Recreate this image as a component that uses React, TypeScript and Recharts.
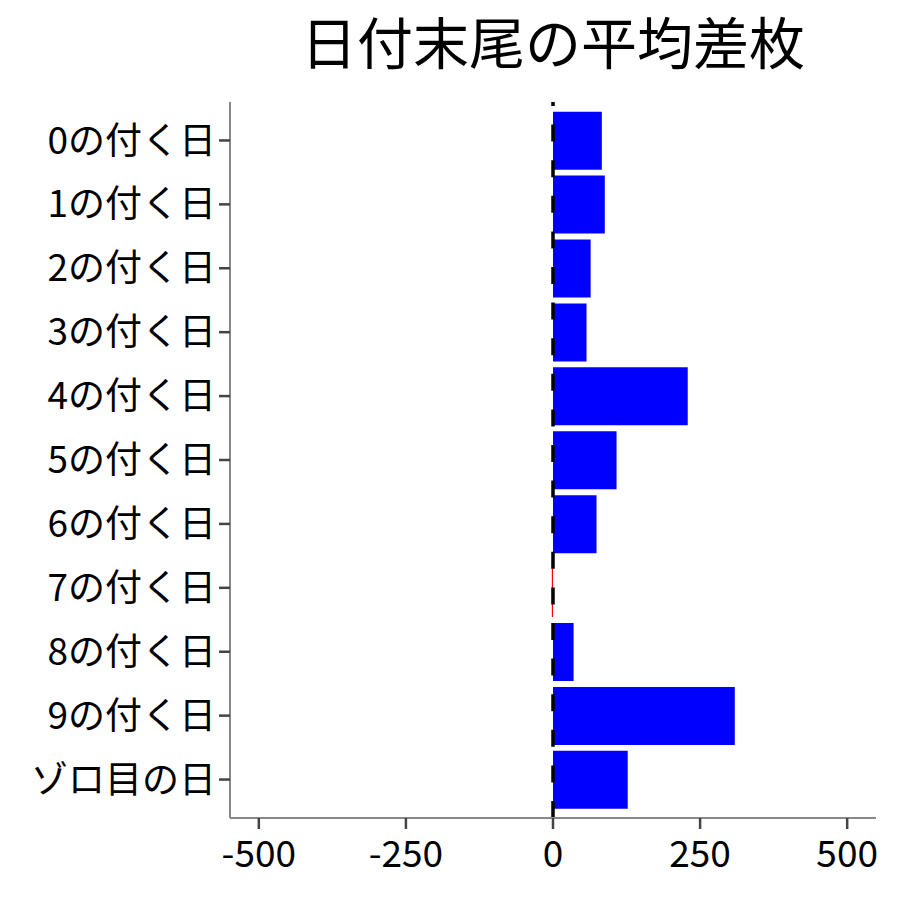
import { BarChart, Bar, Cell, XAxis, YAxis, ReferenceLine } from "recharts";

const CATEGORIES = [
  "0の付く日",
  "1の付く日",
  "2の付く日",
  "3の付く日",
  "4の付く日",
  "5の付く日",
  "6の付く日",
  "7の付く日",
  "8の付く日",
  "9の付く日",
  "ゾロ目の日",
];

const AVG_DIFF = [83, 88, 64, 57, 229, 108, 74, -2, 35, 309, 127];

const X_TICKS = [-500, -250, 0, 250, 500];

const FONT = '"Noto Sans CJK JP", "Noto Sans", sans-serif';

const chartData = CATEGORIES.map((name, i) => ({ name, value: AVG_DIFF[i] }));

export default function App() {
  return (
    <div style={{ position: "relative", width: 900, height: 900, background: "#fff" }}>
      <style>{"body{margin:0}"}</style>
      <div
        style={{
          position: "absolute",
          top: 11,
          left: 230,
          width: 646,
          textAlign: "center",
          fontFamily: FONT,
          fontSize: 56,
          lineHeight: "57px",
          whiteSpace: "nowrap",
          color: "#000",
        }}
      >
        日付末尾の平均差枚
      </div>
      <BarChart
        width={900}
        height={900}
        layout="vertical"
        data={chartData}
        margin={{ top: 102, right: 24, bottom: 0, left: 0 }}
        barCategoryGap="5%"
      >
        <XAxis
          type="number"
          domain={[-549, 549]}
          ticks={X_TICKS}
          height={82}
          tickSize={11}
          tickMargin={12}
          axisLine={{ stroke: "#888", strokeWidth: 2 }}
          tickLine={{ stroke: "#444", strokeWidth: 2.5 }}
          tick={{ fill: "#000", fontSize: 37, fontFamily: FONT }}
        />
        <YAxis
          type="category"
          dataKey="name"
          width={230}
          interval={0}
          padding={{ top: 6.5, bottom: 6.5 }}
          tickSize={11}
          tickMargin={3}
          axisLine={{ stroke: "#888", strokeWidth: 2 }}
          tickLine={{ stroke: "#444", strokeWidth: 2.5 }}
          tick={{ fill: "#000", fontSize: 37, fontFamily: FONT }}
        />
        <Bar dataKey="value" isAnimationActive={false}>
          {chartData.map((d, i) => (
            <Cell key={`cell-${i}`} fill={d.value < 0 ? "#FF0000" : "#0000FF"} />
          ))}
        </Bar>
        <ReferenceLine x={0} stroke="#000" strokeWidth={3.5} strokeDasharray="17 18.6" />
      </BarChart>
    </div>
  );
}
